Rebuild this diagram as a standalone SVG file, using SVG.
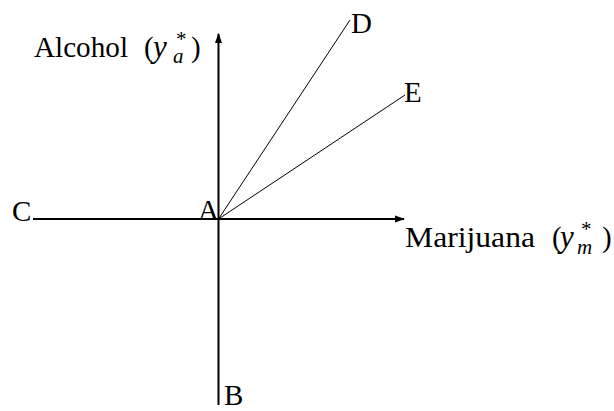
<svg xmlns="http://www.w3.org/2000/svg" width="614" height="411" viewBox="0 0 614 411">
<defs>
<style>
.t{font-family:"Liberation Serif","DejaVu Serif",serif;font-size:29px;fill:#000}
.i{font-style:italic}
.s{font-size:21px}
.ax{stroke:#000;stroke-width:2;fill:none}
.ln{stroke:#000;stroke-width:1;fill:none}
</style>
<marker id="ah" viewBox="0 0 10 10" refX="9" refY="5" markerWidth="10" markerHeight="10" markerUnits="userSpaceOnUse" orient="auto">
<path d="M0,1.5 L10,5 L0,8.5 Z" fill="#000"/>
</marker>
</defs>
<rect width="614" height="411" fill="#fff"/>
<g id="connectors">
<line class="ax" x1="218.5" y1="405" x2="218.5" y2="34" marker-end="url(#ah)"/>
<line class="ax" x1="33" y1="219" x2="404" y2="219" marker-end="url(#ah)"/>
<line class="ln" x1="218.5" y1="219" x2="350" y2="20"/>
<line class="ln" x1="218.5" y1="219" x2="405" y2="95"/>
</g>
<g id="A"><text class="t" x="198" y="220">A</text></g>
<g id="B"><text class="t" x="224" y="405">B</text></g>
<g id="C"><text class="t" x="12" y="221">C</text></g>
<g id="D"><text class="t" x="351" y="33">D</text></g>
<g id="E"><text class="t" x="404" y="102">E</text></g>
<g id="alcohol"><text class="t" x="34" y="57"><tspan textLength="94" lengthAdjust="spacingAndGlyphs">Alcohol</tspan><tspan x="144">(</tspan><tspan class="i" x="153" style="font-size:31px">y</tspan><tspan class="s" x="176" y="46">*</tspan><tspan class="s i" x="173" y="63">a</tspan><tspan x="191" y="57">)</tspan></text></g>
<g id="marijuana"><text class="t" x="405" y="247"><tspan textLength="130" lengthAdjust="spacingAndGlyphs">Marijuana</tspan><tspan x="552">(</tspan><tspan class="i" x="560" style="font-size:31px">y</tspan><tspan class="s" x="581" y="236">*</tspan><tspan class="s i" x="577" y="254">m</tspan><tspan x="602" y="247">)</tspan></text></g>
</svg>
